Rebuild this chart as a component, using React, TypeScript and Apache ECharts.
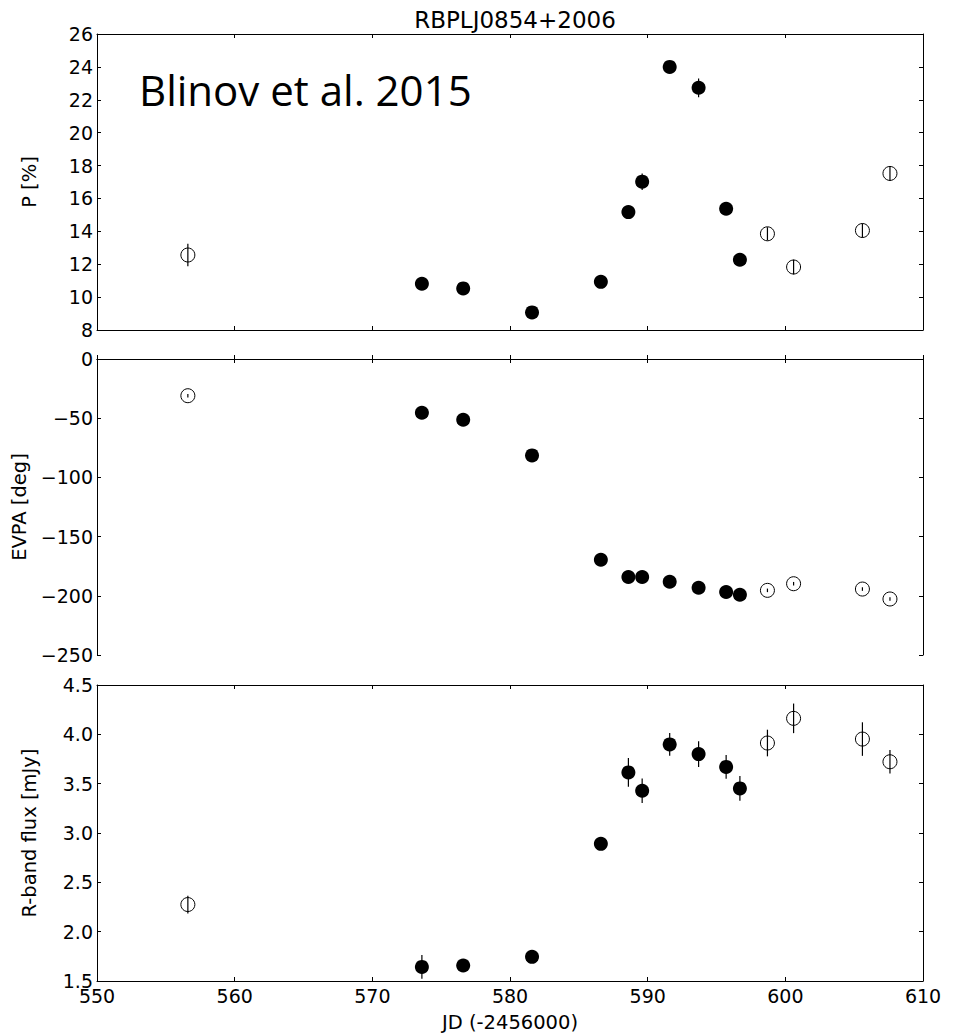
import React, { useEffect, useRef } from "react";
import * as echarts from "echarts";

const titleText = "RBPLJ0854+2006";
const annotation = "Blinov et al. 2015";
const jd = [556.6, 573.6, 576.6, 581.6, 586.6, 588.6, 589.6, 591.6, 593.7, 595.7, 596.7, 598.7, 600.6, 605.6, 607.6];
const filled = [false, true, true, true, true, true, true, true, true, true, true, false, false, false, false];
const pVal = [12.56, 10.81, 10.53, 9.07, 10.93, 15.17, 17.02, 24.0, 22.73, 15.37, 12.27, 13.85, 11.83, 14.05, 17.52];
const pErr = [0.68, 0.3, 0.3, 0.3, 0.3, 0.3, 0.5, 0.3, 0.57, 0.3, 0.3, 0.4, 0.45, 0.43, 0.46];
const evpaVal = [-31.0, -45.4, -51.3, -81.4, -169.5, -184.1, -184.1, -188.1, -193.2, -196.8, -199.1, -195.4, -189.8, -194.3, -202.7];
const evpaErr = [1.5, 1.5, 1.5, 1.5, 1.5, 1.5, 1.5, 1.5, 1.5, 1.5, 1.5, 1.5, 1.5, 1.5, 1.5];
const fluxVal = [2.275, 1.643, 1.657, 1.745, 2.89, 3.614, 3.428, 3.898, 3.80, 3.67, 3.452, 3.912, 4.162, 3.952, 3.722];
const fluxErr = [0.09, 0.12, 0.05, 0.05, 0.06, 0.145, 0.125, 0.115, 0.13, 0.12, 0.125, 0.135, 0.15, 0.17, 0.12];

const xMin = 550, xMax = 610, xStep = 10;
const panels = [
  { name: "P [%]", min: 8, max: 26, step: 2, val: pVal, err: pErr, dec: 0 },
  { name: "EVPA [deg]", min: -250, max: 0, step: 50, val: evpaVal, err: evpaErr, dec: 0 },
  { name: "R-band flux [mJy]", min: 1.5, max: 4.5, step: 0.5, val: fluxVal, err: fluxErr, dec: 1 },
];
const xLabel = "JD (-2456000)";

export default function App() {
  const ref = useRef<HTMLDivElement>(null);
  useEffect(() => {
    document.body.style.margin = "0";
    const chart = echarts.init(ref.current!, null, { renderer: "svg" });
    const font = "DejaVu Sans";
    const tickFs = 19;
    const labelFs = 19.5;
    const tops = [34, 359, 685];
    const grids = tops.map((t) => ({ left: 97, right: 36, top: t, height: 296 }));
    const xAxis: any[] = [];
    const yAxis: any[] = [];
    const series: any[] = [];
    panels.forEach((p, i) => {
      const common = {
        gridIndex: i,
        type: "value",
        min: xMin,
        max: xMax,
        interval: xStep,
        splitLine: { show: false },
        axisLine: { show: true, lineStyle: { color: "#000", width: 1 } },
        axisTick: { show: true, inside: true, length: 4, lineStyle: { color: "#000" } },
      };
      xAxis.push({
        ...common,
        position: "bottom",
        axisLabel: { show: i === 2, color: "#000", fontSize: tickFs, fontFamily: font, margin: 5, showMinLabel: true, showMaxLabel: true },
        name: i === 2 ? xLabel : "",
        nameLocation: "middle",
        nameGap: 31,
        nameTextStyle: { color: "#000", fontSize: labelFs, fontFamily: font, verticalAlign: "top" },
      });
      xAxis.push({ ...common, position: "top", axisLabel: { show: false } });
      const ycommon = {
        gridIndex: i,
        type: "value",
        min: p.min,
        max: p.max,
        interval: p.step,
        splitLine: { show: false },
        axisLine: { show: true, lineStyle: { color: "#000", width: 1 } },
        axisTick: { show: true, inside: true, length: 4, lineStyle: { color: "#000" } },
      };
      yAxis.push({
        ...ycommon,
        position: "left",
        axisLabel: {
          show: true,
          color: "#000",
          fontSize: tickFs,
          fontFamily: font,
          margin: 4,
          showMinLabel: true,
          showMaxLabel: true,
          formatter: (v: number) => v.toFixed(p.dec).replace("-", "\u2212"),
        },
        name: p.name,
        nameLocation: "middle",
        nameGap: 58,
        nameRotate: 90,
        nameTextStyle: { color: "#000", fontSize: labelFs, fontFamily: font },
      });
      yAxis.push({ ...ycommon, position: "right", axisLabel: { show: false } });
      const xi = i * 2;
      const yi = i * 2;
      series.push({
        type: "custom",
        xAxisIndex: xi,
        yAxisIndex: yi,
        data: jd.map((x, k) => [x, p.val[k], p.err[k]]),
        encode: { x: 0, y: 1 },
        renderItem: (params: any, api: any) => {
          const x = api.value(0);
          const v = api.value(1);
          const e = api.value(2);
          const lo = api.coord([x, v - e]);
          const hi = api.coord([x, v + e]);
          return {
            type: "line",
            shape: { x1: lo[0], y1: lo[1], x2: hi[0], y2: hi[1] },
            style: { stroke: "#000", lineWidth: 1.2 },
          };
        },
        z: 1,
      });
      series.push({
        type: "scatter",
        xAxisIndex: xi,
        yAxisIndex: yi,
        symbol: "circle",
        symbolSize: 14,
        data: jd.map((x, k) => (filled[k] ? [x, p.val[k]] : null)).filter((d) => d),
        itemStyle: { color: "#000", opacity: 1 },
        z: 2,
      });
      series.push({
        type: "scatter",
        xAxisIndex: xi,
        yAxisIndex: yi,
        symbol: "circle",
        symbolSize: 14,
        data: jd.map((x, k) => (!filled[k] ? [x, p.val[k]] : null)).filter((d) => d),
        itemStyle: { color: "transparent", borderColor: "#000", borderWidth: 1, opacity: 1 },
        z: 2,
      });
    });
    chart.setOption({
      animation: false,
      backgroundColor: "#fff",
      title: {
        text: titleText,
        left: 510,
        top: 3,
        textAlign: "center",
        textStyle: { color: "#000", fontSize: 23, fontWeight: "normal", fontFamily: font },
      },
      graphic: [
        {
          type: "text",
          left: 139,
          top: 68,
          style: { text: annotation, fill: "#000", fontSize: 42, fontFamily: "Open Sans" },
          z: 10,
        },
      ],
      grid: grids,
      xAxis,
      yAxis,
      series,
    });
    return () => chart.dispose();
  }, []);
  return <div ref={ref} style={{ width: 959, height: 1036 }} />;
}
